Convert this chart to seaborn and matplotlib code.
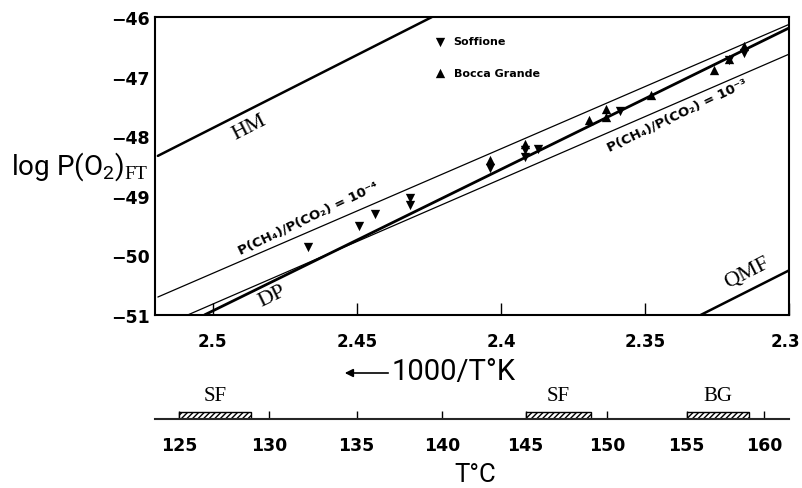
import seaborn as sns
import numpy as np
import matplotlib.pyplot as plt
import matplotlib.transforms as mtransforms

# buffer / equilibrium lines (x = 1000/T K, y = log P(O2))
hm_x = [2.519, 2.424]
hm_y = [-48.33, -46.0]
dp_x = [2.5028, 2.3]
dp_y = [-51.0, -46.18]
qmf_x = [2.3307, 2.3]
qmf_y = [-51.0, -50.25]
r4_x = [2.519, 2.3]      # P(CH4)/P(CO2) = 1e-4
r4_y = [-50.70, -46.12]
r3_x = [2.5086, 2.3]     # P(CH4)/P(CO2) = 1e-3
r3_y = [-51.0, -46.62]

# Soffione samples (down triangles)
sof_x = [2.4671, 2.4493, 2.4438, 2.4315, 2.4315, 2.4038, 2.3918, 2.3918, 2.3870, 2.3589, 2.3209, 2.3158]
sof_y = [-49.86, -49.50, -49.30, -49.03, -49.15, -48.53, -48.23, -48.35, -48.22, -47.58, -46.72, -46.60]
# Bocca Grande samples (up triangles)
bg_x = [2.4038, 2.3918, 2.3695, 2.3637, 2.3637, 2.3479, 2.3260, 2.3209, 2.3158]
bg_y = [-48.40, -48.13, -47.73, -47.55, -47.68, -47.30, -46.88, -46.70, -46.49]

xticks = [2.5, 2.45, 2.4, 2.35, 2.3]
xtick_labels = ['2.5', '2.45', '2.4', '2.35', '2.3']
yticks = [-46, -47, -48, -49, -50, -51]
ytick_labels = ['\u221246', '\u221247', '\u221248', '\u221249', '\u221250', '\u221251']

# temperature scale (deg C) and sampling ranges
temps = [125, 130, 135, 140, 145, 150, 155, 160]
range_lo = [125, 145, 155]
range_hi = [129, 149, 159]
range_names = ['SF', 'SF', 'BG']

sns.set_style("ticks")
plt.rcParams['font.family'] = ['DejaVu Sans']
plt.rcParams['text.color'] = 'black'
plt.rcParams['axes.labelcolor'] = 'black'
plt.rcParams['xtick.color'] = 'black'
plt.rcParams['ytick.color'] = 'black'
plt.rcParams['mathtext.fontset'] = 'custom'
plt.rcParams['mathtext.rm'] = 'Liberation Serif'
plt.rcParams['mathtext.sf'] = 'Roboto'
plt.rcParams['hatch.linewidth'] = 1.0

fig = plt.figure(figsize=(8.03, 4.89), dpi=100)
ax = fig.add_axes([0.193, 0.354, 0.790, 0.609])
ax2 = fig.add_axes([0.193, 0.141, 0.790, 0.0613])

sns.lineplot(x=hm_x, y=hm_y, ax=ax, color='black', linewidth=1.8)
sns.lineplot(x=dp_x, y=dp_y, ax=ax, color='black', linewidth=2.0)
sns.lineplot(x=qmf_x, y=qmf_y, ax=ax, color='black', linewidth=1.8)
sns.lineplot(x=r4_x, y=r4_y, ax=ax, color='black', linewidth=0.9)
sns.lineplot(x=r3_x, y=r3_y, ax=ax, color='black', linewidth=0.9)

sns.scatterplot(x=sof_x, y=sof_y, ax=ax, marker='v', s=45, color='black',
                linewidth=0, label='Soffione', zorder=3)
sns.scatterplot(x=bg_x, y=bg_y, ax=ax, marker='^', s=45, color='black',
                linewidth=0, label='Bocca Grande', zorder=3)

ax.legend(loc='upper left', bbox_to_anchor=(0.434, 0.95), frameon=False,
          prop={'weight': 'bold', 'size': 8}, handletextpad=0.7,
          labelspacing=1.9, handlelength=1.0, borderaxespad=0)

ax.set_xlim(2.52, 2.3)
ax.set_ylim(-51, -46)
ax.set_xticks(xticks)
ax.set_xticklabels(xtick_labels, fontweight='bold', fontsize=12)
ax.set_yticks(yticks)
ax.set_yticklabels(ytick_labels, fontweight='bold', fontsize=12.5)
ax.tick_params(axis='x', direction='in', length=9, width=1, pad=12, top=False)
ax.tick_params(axis='y', length=0, pad=4)
for s in ax.spines.values():
    s.set_linewidth(1.5)
    s.set_color('black')
# nudge the last x label so it stays inside the figure
last = ax.get_xticklabels()[-1]
last.set_transform(last.get_transform() +
                   mtransforms.ScaledTranslation(-4 / 100, 0, fig.dpi_scale_trans))

# line labels
serif = dict(family='Liberation Serif', fontsize=16, ha='center', va='center',
             rotation_mode='anchor')
ax.text(2.4872, -47.85, 'HM', rotation=27, **serif)
ax.text(2.4793, -50.68, 'DP', rotation=26, **serif)
ax.text(2.3145, -50.28, 'QMF', rotation=27, **serif)
ax.text(2.4668, -49.36, 'P(CH\u2084)/P(CO\u2082) = 10\u207b\u2074', rotation=25.5,
        fontsize=9.5, fontweight='bold', ha='center', va='center', rotation_mode='anchor')
ax.text(2.339, -47.63, 'P(CH\u2084)/P(CO\u2082) = 10\u207b\u00b3', rotation=25.5,
        fontsize=9.5, fontweight='bold', ha='center', va='center', rotation_mode='anchor')

ax.set_ylabel(r'log P(O$_\mathsf{2}$)$_\mathrm{FT}$', rotation=0, ha='right', va='center',
              fontsize=20, family='Roboto')
ax.yaxis.set_label_coords(-0.011, 0.5)
ax.set_xlabel('1000/T\u00b0K', fontsize=21, family='Roboto', va='center')
ax.xaxis.set_label_coords(0.47, -0.188)
ax.annotate('', xy=(342 / 803, 1 - 374 / 489), xytext=(391 / 803, 1 - 374 / 489),
            xycoords='figure fraction', textcoords='figure fraction',
            arrowprops=dict(arrowstyle='-|>', lw=1.2, color='black', mutation_scale=12))

# temperature axis
tpos = [1000 / (t + 273.15) for t in temps]
lefts = [1000 / (t + 273.15) for t in range_hi]
rights = [1000 / (t + 273.15) for t in range_lo]
ax2.bar([(l + r) / 2 for l, r in zip(lefts, rights)], 0.23,
        width=[r - l for l, r in zip(lefts, rights)], bottom=0,
        facecolor='white', edgecolor='black', hatch='//////', linewidth=1)
for l, r, name in zip(lefts, rights, range_names):
    ax2.text((l + r) / 2, 0.77, name, family='Liberation Serif', fontsize=15,
             ha='center', va='center')
ax2.set_xlim(2.52, 2.3)
ax2.set_ylim(0, 1)
ax2.set_xticks(tpos)
ax2.set_xticklabels([str(t) for t in temps], fontweight='bold', fontsize=12.5)
ax2.set_yticks([])
ax2.tick_params(axis='x', direction='in', length=6, width=1, pad=12)
for side in ['top', 'left', 'right']:
    ax2.spines[side].set_visible(False)
ax2.spines['bottom'].set_linewidth(1.5)
ax2.patch.set_alpha(0)
ax2.set_xlabel('T\u00b0C', fontsize=18.5, family='Roboto', va='baseline')
ax2.xaxis.set_label_coords(0.505, -2.07)

fig.savefig('out.png', dpi=100)
